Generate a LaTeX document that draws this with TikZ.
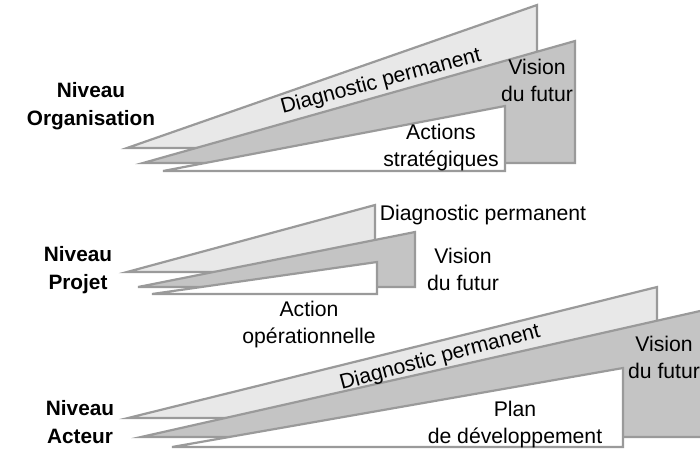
\documentclass[tikz,border=0pt]{standalone}
\usepackage{fontspec}
\setmainfont{Liberation Sans}

\definecolor{edgegray}{HTML}{9A9A9A}
\definecolor{lightfill}{HTML}{E8E8E8}
\definecolor{darkfill}{HTML}{C4C4C4}

\tikzset{
  wedge/.style={draw=edgegray, line width=1.1pt},
  lightwedge/.style={wedge, fill=lightfill},
  darkwedge/.style={wedge, fill=darkfill},
  whitewedge/.style={wedge, fill=white},
  niveau/.style={font=\fontsize{10.4}{14}\selectfont\bfseries, align=center},
  txt/.style={font=\fontsize{10.6}{13.5}\selectfont, align=center, inner sep=0pt},
}

\begin{document}
\begin{tikzpicture}[x=0.5pt, y=-0.5pt]
  \useasboundingbox (0,0) rectangle (700,452);
  \clip (0,0) rectangle (700,452);

  % niveau organisation
  \draw[lightwedge] (127,148) -- (537,5) -- (537,148) -- cycle;
  \draw[darkwedge] (143,163) -- (575,41) -- (575,163) -- cycle;
  \draw[whitewedge] (163,171) -- (505,106) -- (505,171) -- cycle;
  \node[niveau] (orga) at (91,106) {Niveau\\Organisation};
  \node[txt, rotate=15] (diagOrga) at (381,82) {Diagnostic permanent};
  \node[txt] (visOrga) at (537,80) {Vision\\du futur};
  \node[txt] (actOrga) at (441,148) {Actions\\stratégiques};

  % niveau projet
  \draw[lightwedge] (127,272) -- (375,205) -- (375,272) -- cycle;
  \draw[darkwedge] (138,287) -- (415,232) -- (415,287) -- cycle;
  \draw[whitewedge] (152,294) -- (377,262) -- (377,294) -- cycle;
  \node[niveau] (projet) at (78,270) {Niveau\\Projet};
  \node[txt] (diagProjet) at (483,215) {Diagnostic permanent};
  \node[txt] (visProjet) at (463,269) {Vision\\du futur};
  \node[txt] (actProjet) at (309,325) {Action\\opérationnelle};

  % niveau acteur
  \draw[lightwedge] (128,418) -- (657,287) -- (657,418) -- cycle;
  \draw[darkwedge] (141,437) -- (740,302) -- (740,437) -- cycle;
  \draw[whitewedge] (172,447) -- (623,368) -- (623,447) -- cycle;
  \node[niveau] (acteur) at (80,422) {Niveau\\Acteur};
  \node[txt, rotate=15] (diagActeur) at (440,358) {Diagnostic permanent};
  \node[txt] (visActeur) at (664,357) {Vision\\du futur};
  \node[txt] (planActeur) at (515,425) {Plan\\de développement};
\end{tikzpicture}
\end{document}
